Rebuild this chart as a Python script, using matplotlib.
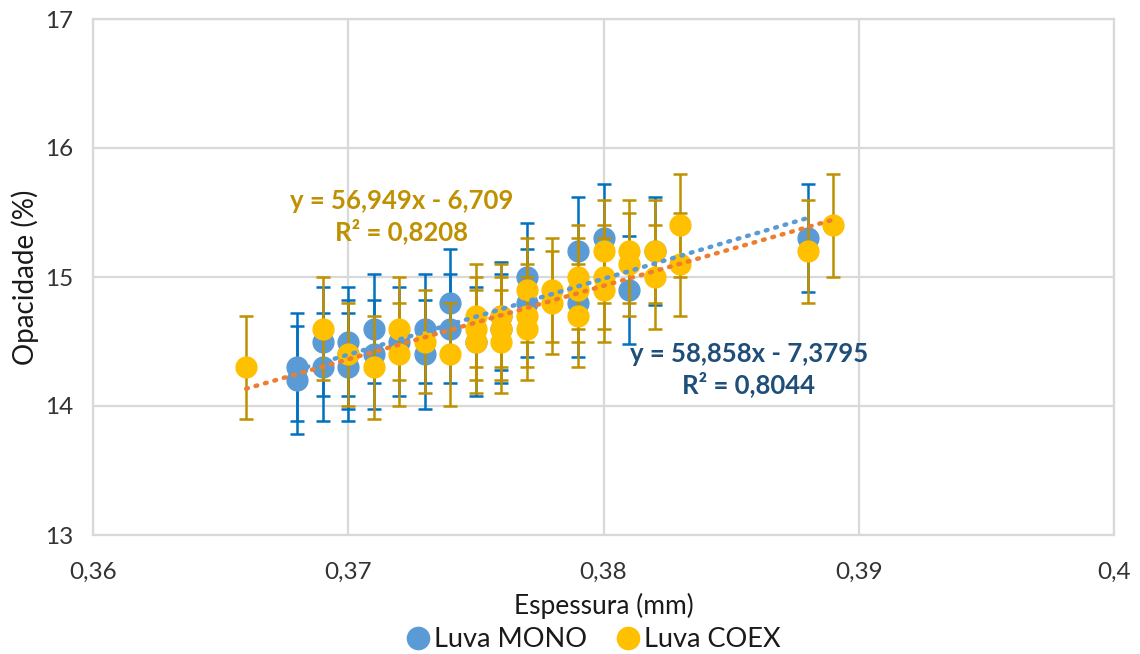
import numpy as np
from matplotlib import pyplot as plt
from matplotlib.lines import Line2D

plt.rcParams['font.family'] = ['Lato', 'DejaVu Sans']

# Luva MONO
mono_x = [0.368, 0.368, 0.369, 0.369, 0.370, 0.370, 0.370, 0.371, 0.371, 0.372,
          0.373, 0.373, 0.374, 0.374, 0.375, 0.376, 0.376, 0.377, 0.377,
          0.379, 0.379, 0.380, 0.381, 0.382, 0.388]
mono_y = [14.3, 14.2, 14.5, 14.3, 14.5, 14.4, 14.3, 14.6, 14.4, 14.5,
          14.6, 14.4, 14.8, 14.6, 14.5, 14.7, 14.6, 15.0, 14.8,
          15.2, 14.8, 15.3, 14.9, 15.2, 15.3]
mono_err = 0.42

# Luva COEX
coex_x = [0.366, 0.369, 0.370, 0.371, 0.372, 0.372, 0.373, 0.374,
          0.375, 0.375, 0.375, 0.376, 0.376, 0.376, 0.377, 0.377, 0.377,
          0.378, 0.378, 0.379, 0.379, 0.379, 0.380, 0.380, 0.380,
          0.381, 0.381, 0.382, 0.382, 0.383, 0.383, 0.388, 0.389]
coex_y = [14.3, 14.6, 14.4, 14.3, 14.6, 14.4, 14.5, 14.4,
          14.7, 14.6, 14.5, 14.7, 14.6, 14.5, 14.9, 14.7, 14.6,
          14.9, 14.8, 15.0, 14.9, 14.7, 15.2, 15.0, 14.9,
          15.2, 15.1, 15.2, 15.0, 15.4, 15.1, 15.2, 15.4]
coex_err = 0.4

# trendline coefficients (from the chart labels)
mono_fit = [58.858, -7.3795]
coex_fit = [56.949, -6.709]

xticks = [0.36, 0.37, 0.38, 0.39, 0.40]
xtick_labels = ['0,36', '0,37', '0,38', '0,39', '0,4']
yticks = [13, 14, 15, 16, 17]

fig = plt.figure(figsize=(11.4, 6.54), dpi=100)
ax = fig.add_axes([93/1140, 119/654, 1021/1140, 516/654])

ax.errorbar(mono_x, mono_y, yerr=mono_err, fmt='o', color='#5B9BD5', ms=15,
            ecolor='#0070C0', elinewidth=1.8, capsize=5, capthick=1.8, zorder=3)
ax.errorbar(coex_x, coex_y, yerr=coex_err, fmt='o', color='#FFC000', ms=15,
            ecolor='#BF9000', elinewidth=1.8, capsize=5, capthick=1.8, zorder=4)

xm = np.array([min(mono_x), max(mono_x)])
ax.plot(xm, np.polyval(mono_fit, xm), ls=(0, (0.4, 1.8)), lw=3.2, color='#5B9BD5',
        dash_capstyle='round', zorder=5)
xc = np.array([min(coex_x), max(coex_x)])
ax.plot(xc, np.polyval(coex_fit, xc), ls=(0, (0.4, 1.8)), lw=3.2, color='#ED7D31',
        dash_capstyle='round', zorder=5)

ax.text(0.3721, 15.47, 'y = 56,949x - 6,709\nR² = 0,8208', ha='center', va='center',
        fontsize=18.5, fontweight='bold', color='#BF9000', linespacing=1.25)
ax.text(0.3857, 14.28, 'y = 58,858x - 7,3795\nR² = 0,8044', ha='center', va='center',
        fontsize=18.5, fontweight='bold', color='#1F4E79', linespacing=1.25)

ax.set_xlim(0.36, 0.40)
ax.set_ylim(13, 17)
ax.set_xticks(xticks)
ax.set_xticklabels(xtick_labels)
ax.set_yticks(yticks)
ax.grid(True, color='#D9D9D9', lw=1.6)
ax.set_axisbelow(True)
for s in ax.spines.values():
    s.set_color('#D9D9D9')
    s.set_linewidth(1.6)
ax.tick_params(length=0, labelsize=17.5, labelcolor='#333333')
ax.tick_params(axis='x', pad=19)
ax.tick_params(axis='y', pad=14)
ax.set_xlabel('Espessura (mm)', fontsize=19, color='#1a1a1a', va='center')
ax.xaxis.set_label_coords(0.5, -71/516)
ax.set_ylabel('Opacidade (%)', fontsize=20, color='#1a1a1a', va='center')
ax.yaxis.set_label_coords(-68/1021, 0.5)

handles = [Line2D([], [], marker='o', ls='', color='#5B9BD5', ms=16),
           Line2D([], [], marker='o', ls='', color='#FFC000', ms=16)]
fig.legend(handles, ['Luva MONO', 'Luva COEX'], loc='center', bbox_to_anchor=(0.52, 0.022),
           ncol=2, frameon=False, fontsize=19.5, handletextpad=0.1, columnspacing=1.0,
           handlelength=1.0, labelcolor='#1a1a1a', borderpad=0)

plt.savefig('out.png', dpi=100)
